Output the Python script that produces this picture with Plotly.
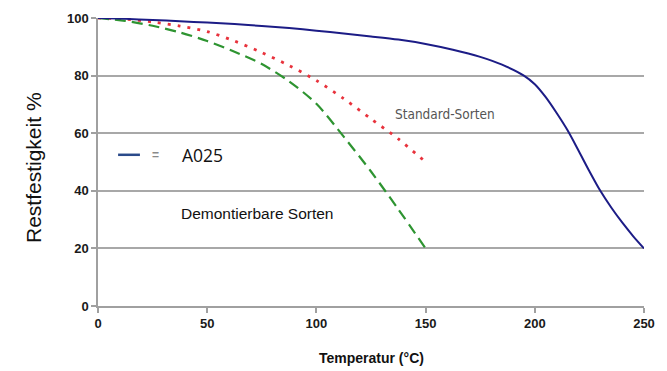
import plotly.graph_objects as go

# Restfestigkeit vs. Temperatur
temp_a025 = [0, 12.5, 25, 37.5, 50, 62.5, 75, 87.5, 100, 112.5, 125, 137.5, 150, 162.5, 175, 185, 195, 200, 205, 210, 215, 220, 225, 230, 235, 240, 245, 250]
rest_a025 = [100, 99.7, 99.3, 98.9, 98.4, 97.9, 97.2, 96.5, 95.6, 94.6, 93.6, 92.5, 91, 89, 86.5, 83.8, 80, 77, 72.5, 67, 61, 54, 46.8, 40, 34.2, 29, 24.3, 20]

temp_std = [0, 12.5, 25, 37.5, 50, 62.5, 75, 87.5, 100, 112.5, 125, 137.5, 150]
rest_std = [100, 99.6, 98.6, 97.2, 95.3, 92, 88, 83.5, 78.3, 72, 65, 58, 50]

temp_dem = [0, 12.5, 25, 37.5, 50, 62.5, 75, 87.5, 100, 112.5, 125, 137.5, 150]
rest_dem = [100, 99, 97.3, 95, 92, 88.3, 84, 78, 70.2, 58.8, 46.7, 33.6, 20]

x_ticks = [0, 50, 100, 150, 200, 250]
y_ticks = [0, 20, 40, 60, 80, 100]

fig = go.Figure()
fig.add_trace(go.Scatter(x=temp_std, y=rest_std, mode="lines", cliponaxis=False,
                         line=dict(color="#e8323c", width=2.8, dash="3px,7px", shape="spline", smoothing=0.8)))
fig.add_trace(go.Scatter(x=temp_dem, y=rest_dem, mode="lines", cliponaxis=False,
                         line=dict(color="#2e9431", width=2.2, dash="11px,6px", shape="spline", smoothing=0.8)))
fig.add_trace(go.Scatter(x=temp_a025, y=rest_a025, mode="lines", cliponaxis=False,
                         line=dict(color="#1c1c86", width=2, shape="spline", smoothing=0.8)))

# legend-like sample line for A025
fig.add_shape(type="line", xref="x", yref="y", x0=9.2, x1=19.2, y0=52.5, y1=52.5,
              line=dict(color="#2a4a8a", width=2.5))
fig.add_annotation(x=26.5, y=52.4, text="=", showarrow=False, xanchor="center",
                   font=dict(family="Liberation Sans", size=12, color="#8a8a8a", weight="bold"))
fig.add_annotation(x=37.5, y=52.3, text="A025", showarrow=False, xanchor="left",
                   font=dict(family="Open Sans", size=17.5, color="#111111"))
fig.add_annotation(x=135, y=66.5, text="Standard-Sorten", showarrow=False, xanchor="left",
                   font=dict(family="DejaVu Sans Condensed, DejaVu Sans", size=13.5, color="#555555"))
fig.add_annotation(x=37.2, y=32, text="Demontierbare Sorten", showarrow=False, xanchor="left",
                   font=dict(family="Liberation Sans", size=15.5, color="#111111"))

# axis titles placed by hand
fig.add_annotation(xref="paper", yref="paper", x=0, y=0.5, xshift=-65, yshift=-6,
                   xanchor="center", yanchor="middle",
                   text="Restfestigkeit %", textangle=-90, showarrow=False,
                   font=dict(family="Liberation Sans", size=21, color="#111111"))
fig.add_annotation(xref="paper", yref="paper", x=0.5, y=0, yshift=-52,
                   xanchor="center", yanchor="middle",
                   text="Temperatur (°C)", showarrow=False,
                   font=dict(family="Liberation Sans", size=14, color="#111111", weight="bold"))

fig.update_xaxes(range=[0, 250], tickvals=x_ticks, showgrid=False, zeroline=False, automargin=False,
                 showline=True, linecolor="#a0a0a0", linewidth=1.5,
                 ticks="outside", ticklen=5, tickcolor="#a0a0a0", tickwidth=1.5,
                 tickfont=dict(family="Liberation Sans", size=13, color="#1a1a1a", weight="bold"))
fig.update_yaxes(range=[0, 100], tickvals=y_ticks, showgrid=True, gridcolor="#a8a8a8", gridwidth=1.8,
                 zeroline=False, showline=True, linecolor="#a0a0a0", linewidth=1.5, automargin=False,
                 ticks="outside", ticklen=5, tickcolor="#a0a0a0", tickwidth=1.5,
                 tickfont=dict(family="Liberation Sans", size=13, color="#1a1a1a", weight="bold"))

# the page body has an 8px margin, so the figure is a bit smaller than the window
fig.update_layout(width=659, height=363, showlegend=False,
                  margin=dict(l=90, r=23, t=9.5, b=65),
                  plot_bgcolor="white", paper_bgcolor="white")

fig.write_html("out.html")
